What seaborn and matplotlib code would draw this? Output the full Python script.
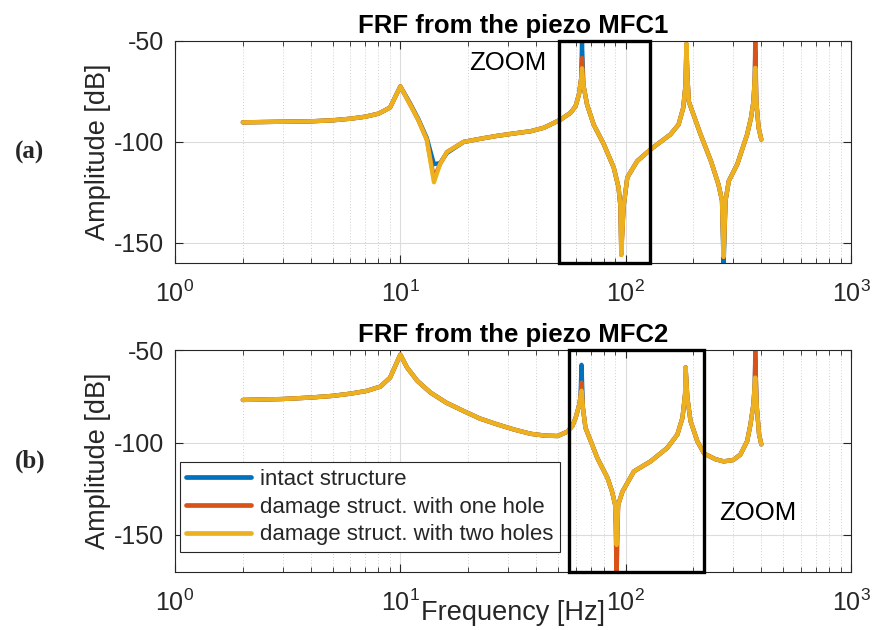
import numpy as np
import pandas as pd
import matplotlib
matplotlib.use("Agg")
import matplotlib.pyplot as plt
from matplotlib.patches import Rectangle
from matplotlib.ticker import LogLocator, FixedLocator
import seaborn as sns

# ---------------- data ----------------
series_names = ["intact structure",
                "damage struct. with one hole",
                "damage struct. with two holes"]
series_colors = ["#0072BD", "#D95319", "#EDB120"]

# Panel (a): FRF from MFC1
freq_a = [2, 3, 4, 5, 6, 7, 8, 9, 10,
          11, 12, 13.1, 14.1, 15, 16.1, 19.1, 23, 26.9, 32,
          37.9, 43.3, 46.4, 51.5, 56.9, 59.9, 62.0, 63.5, 64.0, 64.9,
          67.4, 72.1, 80.0, 88.5, 93.0, 94.8, 95.6, 97.9, 101.7, 112.5,
          129, 158, 171.7, 180, 184.4, 186, 187.8, 190.6, 200, 215,
          239, 258, 267.6, 272, 277.5, 287, 313, 346, 360, 369,
          374, 376, 380, 389, 400]
intact_a = [-90.3, -90.0, -89.8, -89.3, -88.5, -87.5, -86.0, -83.0, -72.5,
            -80.5, -88.5, -98.0, -111.0, -110.5, -105.5, -100.0, -98.3, -97.0, -95.8,
            -94.7, -93.0, -91.4, -88.9, -85.6, -82.4, -76.6, -68.4, -50.5, -71.7,
            -81.5, -91.4, -101.2, -112.7, -122.6, -132.0, -153.0, -132.0, -117.6, -109.5,
            -103.7, -96.3, -91.4, -83.2, -71.7, -51.5, -66.7, -80.0, -86.5, -96.3,
            -109.5, -121.0, -129.0, -162.0, -129.0, -119.3, -111.0, -96.3, -88.0, -80.0,
            -68.4, -55.0, -80.0, -93.0, -98.8]
onehole_a = [-90.3, -90.0, -89.8, -89.3, -88.5, -87.5, -86.0, -83.0, -72.5,
             -81.0, -89.0, -98.8, -118.0, -111.0, -105.0, -100.0, -98.3, -97.0, -95.8,
             -94.7, -93.0, -91.4, -88.9, -85.6, -82.4, -76.6, -68.4, -58.4, -71.7,
             -81.5, -91.4, -101.2, -112.7, -122.6, -132.0, -156.0, -132.0, -117.6, -109.5,
             -103.7, -96.3, -91.4, -83.2, -71.7, -51.5, -66.7, -80.0, -86.5, -96.3,
             -109.5, -121.0, -129.0, -157.0, -129.0, -119.3, -111.0, -96.3, -88.0, -80.0,
             -68.4, -48.0, -80.0, -93.0, -98.8]
twoholes_a = [-90.3, -90.0, -89.8, -89.3, -88.5, -87.5, -86.0, -83.0, -72.5,
              -81.0, -89.0, -98.8, -120.0, -111.0, -105.0, -100.0, -98.3, -97.0, -95.8,
              -94.7, -93.0, -91.4, -88.9, -85.6, -82.4, -76.6, -68.4, -63.5, -71.7,
              -81.5, -91.4, -101.2, -112.7, -122.6, -132.0, -156.0, -132.0, -117.6, -109.5,
              -103.7, -96.3, -91.4, -83.2, -71.7, -51.5, -66.7, -80.0, -86.5, -96.3,
              -109.5, -121.0, -129.0, -157.0, -129.0, -119.3, -111.0, -96.3, -88.0, -80.0,
              -68.4, -63.3, -80.0, -93.0, -98.8]

# Panel (b): FRF from MFC2
freq_b = [2, 3, 4, 5, 6, 7.1, 8.15, 9, 10,
          10.7, 11.9, 13.6, 16, 19.1, 22.5, 26.9, 32, 37.9, 44,
          49.9, 55, 58, 60, 62, 63, 63.7, 64.6, 66.3, 70,
          74.8, 83.1, 87.0, 89.8, 91.2, 92.6, 96.8, 108.8, 129, 153,
          169.6, 178.7, 183.5, 184.5, 187.8, 194, 208, 223, 250, 272,
          300, 323, 346, 358, 369, 374, 376, 381, 391, 400]
intact_b = [-77.0, -76.5, -75.7, -74.8, -73.6, -72.1, -69.8, -65.0, -52.5,
            -59.4, -66.7, -73.0, -78.5, -83.0, -87.0, -90.2, -93.0, -95.3, -96.3,
            -96.5, -94.2, -91.1, -86.6, -80.3, -75.7, -58.0, -81.2, -92.0, -99.3,
            -108.3, -119.2, -126.5, -133.7, -150.0, -133.7, -126.5, -115.6, -110.2, -102.9,
            -95.7, -86.6, -73.9, -59.4, -75.7, -88.4, -99.3, -106.0, -109.0, -110.2,
            -109.5, -106.5, -99.3, -90.2, -79.3, -68.5, -55.0, -79.3, -95.7, -101.0]
onehole_b = [-77.0, -76.5, -75.7, -74.8, -73.6, -72.1, -69.8, -65.0, -52.5,
             -59.4, -66.7, -73.0, -78.5, -83.0, -87.0, -90.2, -93.0, -95.3, -96.3,
             -96.5, -94.2, -91.1, -86.6, -80.3, -75.7, -67.6, -81.2, -92.0, -99.3,
             -108.3, -119.2, -126.5, -133.7, -172.0, -133.7, -126.5, -115.6, -110.2, -102.9,
             -95.7, -86.6, -73.9, -59.4, -75.7, -88.4, -99.3, -106.0, -109.0, -110.2,
             -109.5, -106.5, -99.3, -90.2, -79.3, -68.5, -50.4, -79.3, -95.7, -101.0]
twoholes_b = [-77.0, -76.5, -75.7, -74.8, -73.6, -72.1, -69.8, -65.0, -52.5,
              -59.4, -66.7, -73.0, -78.5, -83.0, -87.0, -90.2, -93.0, -95.3, -96.3,
              -96.5, -94.2, -91.1, -86.6, -80.3, -75.7, -72.0, -81.2, -92.0, -99.3,
              -108.3, -119.2, -126.5, -133.7, -155.4, -133.7, -126.5, -115.6, -110.2, -102.9,
              -95.7, -86.6, -73.9, -59.4, -75.7, -88.4, -99.3, -106.0, -109.0, -110.2,
              -109.5, -106.5, -99.3, -90.2, -79.3, -68.5, -64.9, -79.3, -95.7, -101.0]

titles = ["FRF from the piezo MFC1", "FRF from the piezo MFC2"]
panel_tags = ["(a)", "(b)"]
ylims = [(-160, -50), (-170, -50)]
yticks = [-150, -100, -50]
zoom_boxes = [(50.4, 128.0), (55.8, 222.0)]
zoom_text_pos = [(30.0, -60.8), (386.0, -138.0)]

# ---------------- style ----------------
sns.set_style("ticks")
plt.rcParams['font.family'] = ['Liberation Sans', 'DejaVu Sans']
plt.rcParams['mathtext.fontset'] = 'custom'
plt.rcParams['mathtext.rm'] = 'Liberation Sans'
plt.rcParams['mathtext.it'] = 'Liberation Sans:italic'
plt.rcParams['mathtext.bf'] = 'Liberation Sans:bold'
plt.rcParams['axes.unicode_minus'] = False

fig = plt.figure(figsize=(8.73, 6.3), dpi=100)
W, H = 873.0, 630.0
ax_a = fig.add_axes([175 / W, 1 - 263 / H, 676 / W, 222 / H])
ax_b = fig.add_axes([175 / W, 1 - 572 / H, 676 / W, 222 / H])

panels = [(ax_a, freq_a, [intact_a, onehole_a, twoholes_a]),
          (ax_b, freq_b, [intact_b, onehole_b, twoholes_b])]

axis_col = "#262626"
for i, (ax, freq, ys) in enumerate(panels):
    for name, col, vals in zip(series_names, series_colors, ys):
        df = pd.DataFrame({"Frequency": freq, "Amplitude": vals})
        sns.lineplot(data=df, x="Frequency", y="Amplitude", ax=ax, color=col,
                     linewidth=3.1, label=name, sort=False, estimator=None,
                     legend=False)
    ax.set_xscale("log")
    ax.set_xlim(1, 1000)
    ax.set_ylim(*ylims[i])
    ax.set_yticks(yticks)
    ax.yaxis.set_minor_locator(FixedLocator([]))
    ax.xaxis.set_major_locator(LogLocator(base=10, numticks=10))
    ax.xaxis.set_minor_locator(LogLocator(base=10, subs=np.arange(2, 10), numticks=20))
    ax.grid(True, which="major", axis="both", color="#dcdcdc", linewidth=0.8, linestyle="-")
    ax.grid(True, which="minor", axis="x", color="#cfcfcf", linewidth=0.7, linestyle=(0, (1, 2)))
    ax.set_axisbelow(True)
    ax.tick_params(axis="both", which="major", direction="in", length=6, width=0.8,
                   top=True, right=True, labelsize=18, colors=axis_col, labelcolor=axis_col)
    ax.tick_params(axis="both", which="minor", direction="in", length=3.5, width=0.6,
                   top=True, right=True, colors=axis_col)
    ax.tick_params(axis="x", which="major", pad=13)
    ax.tick_params(axis="y", which="major", pad=8)
    for sp in ax.spines.values():
        sp.set_visible(True)
        sp.set_color(axis_col)
        sp.set_linewidth(0.8)
    ax.set_ylabel("Amplitude [dB]", fontsize=19.5, color=axis_col, labelpad=2)
    ax.set_xlabel("")
    ax.set_title(titles[i], fontsize=18.5, fontweight="bold", pad=6, color="black")
    # zoom rectangle
    x0, x1 = zoom_boxes[i]
    y0, y1 = ylims[i]
    ax.add_patch(Rectangle((x0, y0), x1 - x0, y1 - y0, fill=False, edgecolor="black",
                           linewidth=2.4, zorder=5, clip_on=False))
    tx, ty = zoom_text_pos[i]
    ax.text(tx, ty, "ZOOM", fontsize=18.5, ha="center", va="center", color="black")
    # panel tag
    ax.text(-0.237, 0.5, panel_tags[i], transform=ax.transAxes, fontsize=18,
            family=["Liberation Serif", "DejaVu Serif"], fontweight="bold",
            ha="left", va="center")

ax_b.set_xlabel("Frequency [Hz]", fontsize=19.5, color=axis_col)
ax_b.xaxis.set_label_coords(0.5, -0.125)

handles = ax_b.get_lines()[:3]
leg = ax_b.legend(handles, series_names, loc="lower left", bbox_to_anchor=(0.007, 0.09),
                  borderaxespad=0, fontsize=16, frameon=True, fancybox=False,
                  framealpha=1, edgecolor=axis_col, handlelength=2.9,
                  labelspacing=0.3, borderpad=0.3, handletextpad=0.4)
leg.get_frame().set_linewidth(0.8)
for lh in leg.get_lines():
    lh.set_linewidth(3.4)

fig.savefig("out.png", dpi=100)
